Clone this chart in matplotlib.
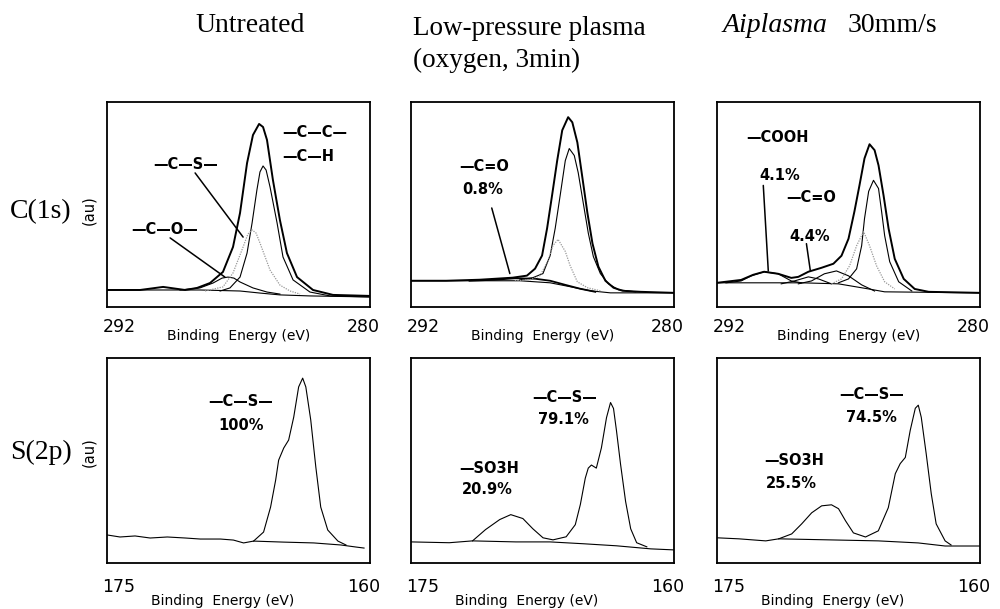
import matplotlib
matplotlib.use("Agg")
from matplotlib import pyplot as plt

# ---------------- C(1s) untreated ----------------
un_c_env_ev = [292.0, 290.49, 289.44, 288.44, 287.89, 287.30, 286.71, 286.25, 285.93, 285.61,
               285.34, 285.06, 284.88, 284.70, 284.43, 284.11, 283.79, 283.33, 282.60, 281.69, 280.0]
un_c_env = [8.3, 8.3, 9.8, 8.3, 9.3, 11.7, 17.1, 29.3, 45.9, 70.2,
            83.9, 89.3, 87.8, 81.5, 62.0, 42.4, 26.3, 14.6, 8.3, 5.9, 5.4]
un_c_bg_ev = [292.0, 287.76, 285.93, 285.02, 284.11, 282.74, 280.0]
un_c_bg = [8.3, 8.3, 7.8, 6.8, 5.9, 5.4, 4.9]
un_c_cc_ev = [286.84, 286.39, 285.93, 285.61, 285.38, 285.16, 285.02, 284.88, 284.74, 284.56,
              284.24, 283.97, 283.51, 282.74, 281.82, 280.0]
un_c_cc = [7.8, 9.3, 14.6, 26.3, 41.0, 57.1, 65.9, 68.8, 66.8, 58.5,
           41.0, 24.4, 13.2, 7.3, 5.4, 4.9]
un_c_cs_ev = [287.53, 286.71, 286.25, 285.79, 285.57, 285.38, 285.20, 285.02, 284.56, 284.11, 283.65, 283.19]
un_c_cs = [7.8, 9.8, 16.6, 29.3, 35.6, 37.6, 36.1, 31.2, 18.0, 10.7, 7.8, 6.3]
un_c_co_ev = [288.67, 287.76, 287.16, 286.75, 286.48, 286.21, 285.93, 285.34, 284.70, 284.11]
un_c_co = [8.3, 9.3, 11.7, 14.1, 14.6, 14.1, 12.2, 9.3, 7.3, 6.3]

# ---------------- C(1s) low-pressure plasma ----------------
lp_c_env_ev = [292.0, 290.39, 288.87, 287.36, 286.71, 286.34, 286.02, 285.79, 285.56, 285.33, 285.10,
               284.83, 284.64, 284.41, 284.18, 283.95, 283.72, 283.45, 283.13, 282.76, 282.34, 281.52, 280.0]
lp_c_env = [12.8, 12.8, 13.3, 14.3, 15.3, 18.7, 25.1, 38.4, 54.7, 71.4, 86.2,
            92.6, 90.1, 80.3, 63.1, 45.8, 31.0, 19.7, 12.8, 9.4, 7.9, 7.4, 6.9]
lp_c_bg_ev = [292.0, 288.87, 287.03, 285.65, 284.74, 283.82, 282.90, 280.0]
lp_c_bg = [12.8, 12.8, 12.8, 11.8, 9.9, 7.9, 6.9, 6.9]
lp_c_cdo_ev = [289.33, 288.18, 287.26, 286.34, 285.65, 284.96, 284.28, 283.59]
lp_c_cdo = [12.8, 13.3, 14.0, 13.8, 12.8, 10.8, 8.9, 7.4]
lp_c_cc_ev = [287.03, 286.44, 285.98, 285.65, 285.42, 285.19, 284.96, 284.78, 284.55, 284.37, 284.14,
              283.91, 283.68, 283.36, 282.99, 282.53, 281.75]
lp_c_cc = [13.3, 14.3, 16.3, 25.1, 38.4, 54.7, 71.4, 77.3, 73.9, 65.5, 50.7,
           36.0, 24.6, 16.3, 11.3, 8.4, 7.4]
lp_c_cs_ev = [287.26, 286.57, 286.11, 285.75, 285.52, 285.29, 284.96, 284.74, 284.41, 283.95, 283.36]
lp_c_cs = [12.8, 13.3, 15.3, 22.7, 30.0, 33.0, 27.1, 20.2, 12.3, 9.4, 7.9]

# ---------------- C(1s) Aiplasma ----------------
ai_c_env_ev = [292.0, 290.90, 290.35, 289.85, 289.21, 288.61, 288.29, 287.83, 287.24, 286.69, 286.32,
               286.00, 285.73, 285.50, 285.27, 285.04, 284.81, 284.63, 284.40, 284.17, 283.89, 283.48,
               282.98, 282.34, 280.0]
ai_c_env = [11.8, 13.2, 15.7, 17.2, 16.2, 14.2, 14.7, 17.2, 19.1, 21.1, 25.0,
            33.3, 46.6, 59.3, 72.5, 79.4, 76.5, 69.1, 54.4, 38.2, 23.5, 13.7,
            8.8, 7.4, 6.9]
ai_c_bg_ev = [292.0, 288.15, 286.46, 285.08, 284.35, 280.0]
ai_c_bg = [11.8, 11.8, 11.3, 8.8, 7.4, 6.9]
ai_c_cc_ev = [286.46, 286.00, 285.63, 285.40, 285.27, 285.08, 284.86, 284.63, 284.49, 284.35, 284.12, 283.71, 283.11]
ai_c_cc = [11.8, 13.7, 18.6, 29.9, 43.1, 56.4, 61.8, 57.8, 46.6, 34.8, 22.1, 12.3, 7.8]
ai_c_cs_ev = [286.78, 286.32, 285.95, 285.63, 285.31, 285.04, 284.72, 284.35, 283.89]
ai_c_cs = [11.3, 13.7, 20.1, 29.9, 36.8, 29.9, 20.1, 12.3, 8.8]
ai_c_co_ev = [288.29, 287.69, 287.10, 286.55, 286.00, 285.40, 284.81]
ai_c_co = [11.3, 12.7, 16.2, 17.6, 15.2, 10.8, 7.8]
ai_c_cdo_ev = [289.07, 288.47, 287.83, 287.37, 286.78]
ai_c_cdo = [11.3, 12.7, 14.7, 13.7, 11.3]
ai_c_cooh_ev = [291.59, 290.90, 290.44, 289.85, 289.21, 288.61, 288.15]
ai_c_cooh = [11.8, 12.7, 15.2, 17.2, 16.2, 12.7, 11.8]

# ---------------- S(2p) ----------------
un_s_bg_ev = [175.0, 174.26, 173.40, 172.54, 171.56, 170.53, 169.68, 168.53, 167.79, 167.21,
              166.64, 164.92, 163.21, 161.66, 160.80, 160.34]
un_s_bg = [13.7, 12.7, 13.2, 12.2, 12.7, 12.2, 11.7, 11.7, 11.2, 9.8,
           10.7, 10.2, 9.8, 8.8, 7.8, 7.3]
un_s_pk_ev = [166.64, 166.07, 165.67, 165.38, 165.21, 164.92, 164.64, 164.35, 164.07, 163.84,
              163.66, 163.38, 163.09, 162.81, 162.41, 161.83, 161.37]
un_s_pk = [10.7, 15.1, 27.3, 40.5, 50.2, 56.1, 60.0, 71.2, 85.9, 90.2,
           85.9, 69.8, 46.8, 27.3, 16.1, 10.7, 8.8]

lp_s_bg_ev = [175.0, 172.82, 171.49, 169.02, 167.07, 165.17, 163.28, 161.32, 160.0]
lp_s_bg = [10.3, 9.9, 10.8, 10.3, 10.3, 9.4, 8.4, 6.9, 6.4]
lp_s_pk_ev = [171.49, 170.75, 169.94, 169.31, 168.62, 168.05, 167.47, 166.90, 166.15, 165.63, 165.34,
              165.06, 164.89, 164.71, 164.43, 164.14, 163.85, 163.62, 163.45, 163.28, 163.05, 162.76,
              162.47, 162.13, 161.55]
lp_s_pk = [10.8, 16.3, 21.2, 23.6, 21.7, 16.7, 12.3, 11.3, 12.8, 18.7, 28.6,
           41.4, 46.3, 47.8, 46.3, 56.2, 70.9, 78.3, 75.4, 64.5, 48.3, 30.0,
           16.7, 9.9, 7.9]

ai_s_bg_ev = [175.0, 173.75, 172.22, 171.48, 168.64, 165.80, 163.52, 161.99, 160.0]
ai_s_bg = [12.3, 11.8, 10.8, 11.8, 11.3, 10.8, 9.8, 8.3, 8.3]
ai_s_pk_ev = [171.48, 170.74, 170.17, 169.60, 169.03, 168.47, 168.07, 167.67, 167.22, 166.53, 165.80,
              165.23, 164.83, 164.55, 164.26, 163.98, 163.69, 163.52, 163.35, 163.07, 162.78, 162.50,
              161.99, 161.65]
ai_s_pk = [11.8, 14.2, 19.1, 24.5, 27.9, 28.4, 26.5, 20.6, 14.7, 12.7, 15.7,
           27.0, 43.6, 48.5, 51.5, 64.7, 75.5, 77.0, 71.1, 53.4, 33.8, 19.1,
           10.8, 8.8]

titles = ["Untreated", "Low-pressure plasma\n(oxygen, 3min)"]
c_range = (292, 280)
s_range = (175, 160)

SERIF = "Liberation Serif"
SANS = "DejaVu Sans"


def setup_panel(ax, xr, row):
    ax.set_xlim(xr[0], xr[1])
    ax.set_ylim(0, 100)
    ax.set_xticks([])
    ax.set_yticks([])
    for s in ax.spines.values():
        s.set_linewidth(1.3)
    if row == 0:
        ny, ly, lx = -0.10, -0.14, 0.50
    else:
        ny, ly, lx = -0.117, -0.185, 0.44
    ax.text(0.045, ny, str(xr[0]), transform=ax.transAxes, ha="center", va="center",
            fontsize=12.5, family=SANS)
    ax.text(0.975, ny, str(xr[1]), transform=ax.transAxes, ha="center", va="center",
            fontsize=12.5, family=SANS)
    ax.text(lx, ly, "Binding  Energy (eV)", transform=ax.transAxes, ha="center", va="center",
            fontsize=10, family=SANS)


def label(ax, x, y, s, ha="left"):
    ax.text(x, y, s, transform=ax.transAxes, ha=ha, va="center", fontsize=10.5,
            fontweight="bold", family=SANS)


def leader(ax, start, end):
    ax.annotate("", xy=end, xycoords="data", xytext=start, textcoords="axes fraction",
                arrowprops=dict(arrowstyle="-", lw=1.1, color="black", shrinkA=0, shrinkB=0))


def env(ax, x, y):
    ax.plot(x, y, color="black", lw=1.4)


def comp(ax, x, y):
    ax.plot(x, y, color="black", lw=0.8)


def dotted(ax, x, y):
    ax.plot(x, y, color="#999999", lw=0.9, ls=(0, (1, 1)))


fig = plt.figure(figsize=(10, 6.09), dpi=100)
cols = [0.107, 0.411, 0.717]
w, h = 0.263, 0.3366
rows = [0.4959, 0.0755]
axes = [[fig.add_axes([c, r, w, h]) for c in cols] for r in rows]

# row 1 : C(1s)
ax = axes[0][0]
setup_panel(ax, c_range, 0)
env(ax, un_c_env_ev, un_c_env)
comp(ax, un_c_bg_ev, un_c_bg)
comp(ax, un_c_cc_ev, un_c_cc)
comp(ax, un_c_co_ev, un_c_co)
dotted(ax, un_c_cs_ev, un_c_cs)
label(ax, 0.665, 0.849, "\u2014C\u2014C\u2014")
label(ax, 0.665, 0.732, "\u2014C\u2014H")
label(ax, 0.30, 0.693, "\u2014C\u2014S\u2014", ha="center")
label(ax, 0.22, 0.38, "\u2014C\u2014O\u2014", ha="center")
leader(ax, (0.335, 0.654), (285.79, 34.1))
leader(ax, (0.24, 0.337), (286.62, 14.6))

ax = axes[0][1]
setup_panel(ax, c_range, 0)
env(ax, lp_c_env_ev, lp_c_env)
comp(ax, lp_c_bg_ev, lp_c_bg)
ax.plot(lp_c_cdo_ev, lp_c_cdo, color="black", lw=1.3)
comp(ax, lp_c_cc_ev, lp_c_cc)
dotted(ax, lp_c_cs_ev, lp_c_cs)
label(ax, 0.184, 0.685, "\u2014C=O")
label(ax, 0.195, 0.571, "0.8%")
leader(ax, (0.307, 0.483), (287.49, 16.3))

ax = axes[0][2]
setup_panel(ax, c_range, 0)
env(ax, ai_c_env_ev, ai_c_env)
comp(ax, ai_c_bg_ev, ai_c_bg)
comp(ax, ai_c_cc_ev, ai_c_cc)
comp(ax, ai_c_co_ev, ai_c_co)
comp(ax, ai_c_cdo_ev, ai_c_cdo)
comp(ax, ai_c_cooh_ev, ai_c_cooh)
dotted(ax, ai_c_cs_ev, ai_c_cs)
label(ax, 0.111, 0.828, "\u2014COOH")
label(ax, 0.160, 0.642, "4.1%")
label(ax, 0.263, 0.534, "\u2014C=O")
label(ax, 0.275, 0.343, "4.4%")
leader(ax, (0.176, 0.593), (289.66, 17.6))
leader(ax, (0.340, 0.309), (287.74, 17.6))

# row 2 : S(2p)
ax = axes[1][0]
setup_panel(ax, s_range, 1)
comp(ax, un_s_bg_ev, un_s_bg)
comp(ax, un_s_pk_ev, un_s_pk)
label(ax, 0.508, 0.790, "\u2014C\u2014S\u2014", ha="center")
label(ax, 0.508, 0.673, "100%", ha="center")

ax = axes[1][1]
setup_panel(ax, s_range, 1)
comp(ax, lp_s_bg_ev, lp_s_bg)
comp(ax, lp_s_pk_ev, lp_s_pk)
label(ax, 0.586, 0.808, "\u2014C\u2014S\u2014", ha="center")
label(ax, 0.579, 0.70, "79.1%", ha="center")
label(ax, 0.299, 0.463, "\u2014SO3H", ha="center")
label(ax, 0.291, 0.36, "20.9%", ha="center")

ax = axes[1][2]
setup_panel(ax, s_range, 1)
comp(ax, ai_s_bg_ev, ai_s_bg)
comp(ax, ai_s_pk_ev, ai_s_pk)
label(ax, 0.587, 0.824, "\u2014C\u2014S\u2014", ha="center")
label(ax, 0.587, 0.711, "74.5%", ha="center")
label(ax, 0.292, 0.50, "\u2014SO3H", ha="center")
label(ax, 0.284, 0.387, "25.5%", ha="center")

# column titles
fig.text(0.25, 0.958, titles[0], ha="center", va="center", fontsize=20, family=SERIF)
fig.text(0.413, 0.927, titles[1], ha="left", va="center", fontsize=19.5, family=SERIF,
         linespacing=1.35)
fig.text(0.723, 0.958, "Aiplasma", ha="left", va="center", fontsize=20, family=SERIF, style="italic")
fig.text(0.848, 0.958, "30mm/s", ha="left", va="center", fontsize=20, family=SERIF)

# row labels
fig.text(0.041, 0.652, "C(1s)", ha="center", va="center", fontsize=20, family=SERIF)
fig.text(0.089, 0.655, "(au)", ha="center", va="center", fontsize=10.5, family=SANS, rotation=90)
fig.text(0.041, 0.257, "S(2p)", ha="center", va="center", fontsize=20, family=SERIF)
fig.text(0.089, 0.257, "(au)", ha="center", va="center", fontsize=10.5, family=SANS, rotation=90)

fig.savefig("out.png", dpi=100)
